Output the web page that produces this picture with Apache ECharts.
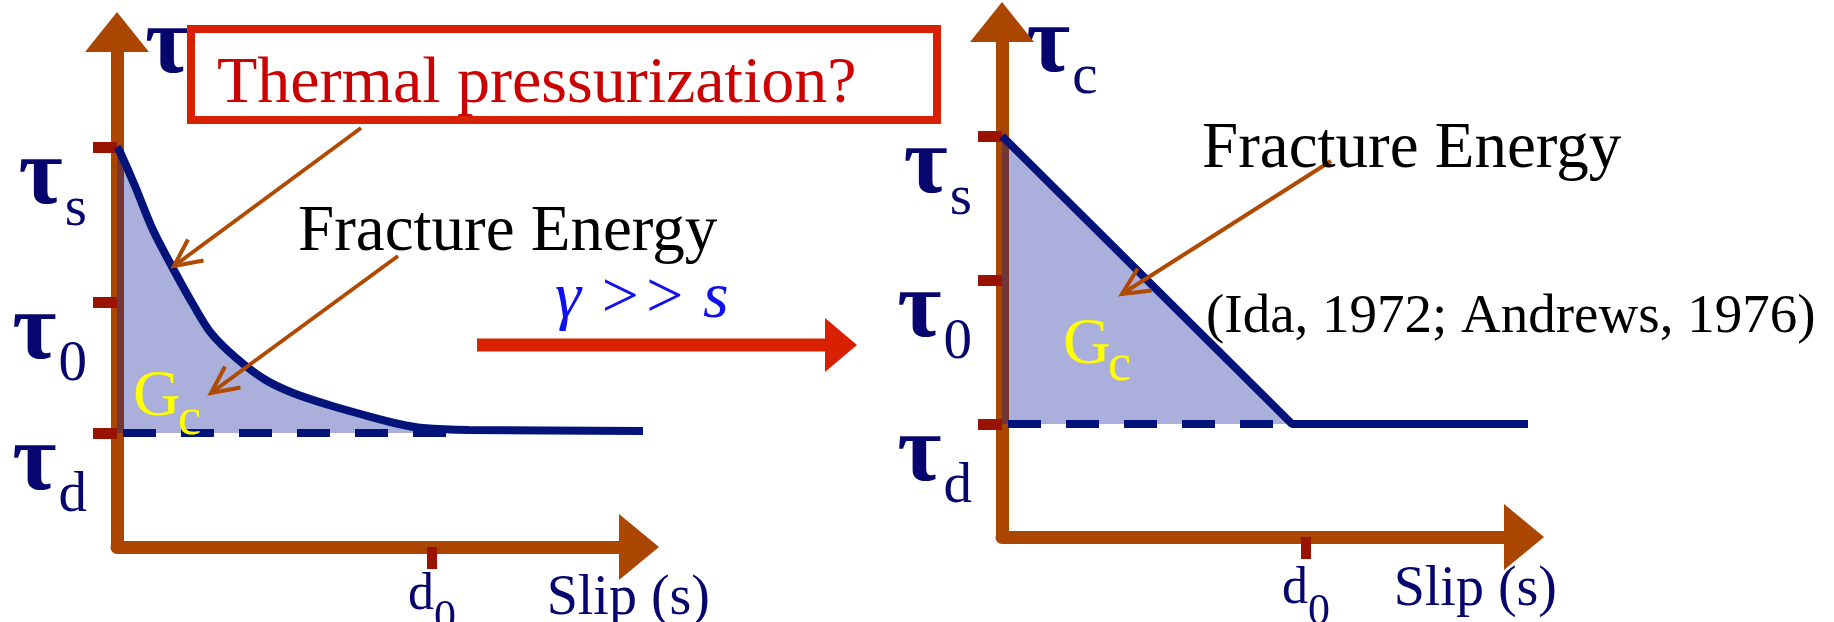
<!DOCTYPE html>
<html>
<head>
<meta charset="utf-8">
<script src="https://cdn.jsdelivr.net/npm/echarts@6/dist/echarts.min.js"></script>
<style>
  html, body { margin: 0; padding: 0; background: #fff; }
  #main { width: 1834px; height: 622px; }
</style>
</head>
<body>
<div id="main"></div>
<script>
// slip weakening: left = thermal pressurization (curved), right = linear law (Ida / Andrews)
// arbitrary units, same scale on both panels
var slipMax = 522;
var stressMax = 515;

var stressNames = ['d', '0', 's'];            // tau_d, tau_0, tau_s
var stressTicksLeft = [114, 245, 400];
var stressTicksRight = [113, 257, 401];
var d0Left = 315;
var d0Right = 304;

// friction curves [slip, stress]
var curveLeft = [[0, 400], [3, 395], [18, 361], [36, 317], [59, 273], [77, 241], [94, 214], [118, 190],
  [147, 168], [176, 154], [212, 142], [247, 132], [282, 123], [306, 119], [352, 117], [529, 116]];
var curveRight = [[0, 401], [290, 113], [529, 113]];
var dashLeft = [[6, 114], [329, 114]];
var dashRight = [[6, 113], [288, 113]];

// pointer arrows [fromSlip, fromStress, toSlip, toStress]
var pointersLeft = [[244, 419, 57, 281], [281, 291, 94, 154]];
var pointersRight = [[329, 376, 120, 243]];
var bigArrow = [[360, 202, 740, 202]];

var serif = "'Liberation Serif', 'Times New Roman', serif";
var brown = '#ab4600';
var tickRed = '#9a1200';
var navy = '#06066e';
var lineNavy = '#02147a';
var fillColor = 'rgba(12, 26, 155, 0.35)';

var chart = echarts.init(document.getElementById('main'));

function stressLabel(ticks) {
  return function (v) {
    for (var i = 0; i < ticks.length; i++) {
      if (Math.abs(ticks[i] - v) < 0.5) {
        return '{t|τ}{s|' + stressNames[i] + '}';
      }
    }
    return '';
  };
}

// subscripts are pushed down with top padding (content moves by half of it)
var tauRich = {
  t: { fontSize: 96, fontWeight: 'bold', fontFamily: serif, color: navy, lineHeight: 96 },
  s: { fontSize: 57, fontFamily: serif, color: navy, lineHeight: 20, padding: [64, 0, 0, 2] }
};
var dRich = {
  d: { fontSize: 52, fontFamily: serif, color: navy, lineHeight: 52 },
  z: { fontSize: 44, fontFamily: serif, color: navy, lineHeight: 2, padding: [46, 0, 0, 0] }
};

function makeX(idx, d0, gap, pad, margin) {
  return {
    type: 'value', gridIndex: idx, min: 0, max: slipMax,
    axisLine: { show: true, onZero: false, symbol: ['none', 'triangle'], symbolSize: [66, 40],
      lineStyle: { color: brown, width: 13, cap: 'round' } },
    axisTick: { show: true, customValues: [d0], length: 22, lineStyle: { color: tickRed, width: 10 } },
    axisLabel: { show: true, customValues: [d0], margin: margin, formatter: function () { return '{d|d}{z|0}'; }, rich: dRich },
    splitLine: { show: false },
    name: 'Slip (s)', nameLocation: 'end', nameGap: gap,
    nameTextStyle: { fontSize: 56, fontFamily: serif, color: navy, align: 'right', verticalAlign: 'top', lineHeight: 56, padding: [pad, 0, 0, 0] }
  };
}

function makeY(idx, ticks, gap, padLeft) {
  return {
    type: 'value', gridIndex: idx, min: 0, max: stressMax,
    axisLine: { show: true, onZero: false, symbol: ['none', 'triangle'], symbolSize: [64, 40],
      lineStyle: { color: brown, width: 13, cap: 'round' } },
    axisTick: { show: true, customValues: ticks, length: 24, lineStyle: { color: tickRed, width: 11 } },
    axisLabel: { show: true, customValues: ticks, margin: 30, align: 'right', verticalAlign: 'middle',
      padding: [62, 0, 0, 0], formatter: stressLabel(ticks), rich: tauRich },
    splitLine: { show: false },
    name: '{t|τ}{s|c}', nameLocation: 'end', nameGap: gap,
    nameTextStyle: { align: 'left', verticalAlign: 'middle', padding: [0, 0, 0, padLeft], rich: tauRich }
  };
}

function renderPointer(params, api) {
  var p0 = api.coord([api.value(0), api.value(1)]);
  var p1 = api.coord([api.value(2), api.value(3)]);
  var ang = Math.atan2(p0[1] - p1[1], p0[0] - p1[0]);
  var L = 30, a = 0.45;
  var b1 = [p1[0] + L * Math.cos(ang + a), p1[1] + L * Math.sin(ang + a)];
  var b2 = [p1[0] + L * Math.cos(ang - a), p1[1] + L * Math.sin(ang - a)];
  return {
    type: 'group',
    children: [
      { type: 'line', shape: { x1: p0[0], y1: p0[1], x2: p1[0], y2: p1[1] }, style: { stroke: '#b04a00', lineWidth: 4 } },
      { type: 'polyline', shape: { points: [b1, p1, b2] }, style: { stroke: '#b04a00', lineWidth: 4, fill: null } }
    ]
  };
}

function renderBigArrow(params, api) {
  var p0 = api.coord([api.value(0), api.value(1)]);
  var p1 = api.coord([api.value(2), api.value(3)]);
  var head = 32, half = 27, t = 13;
  return {
    type: 'group',
    children: [
      { type: 'rect', shape: { x: p0[0], y: p0[1] - t / 2, width: p1[0] - head - p0[0], height: t }, style: { fill: '#d92000' } },
      { type: 'polygon', shape: { points: [[p1[0] - head, p1[1] - half], [p1[0], p1[1]], [p1[0] - head, p1[1] + half]] }, style: { fill: '#d92000' } }
    ]
  };
}

function note(x, base, str, size, color, italic) {
  return {
    type: 'text', x: x, y: base - 0.33 * size, z: 100,
    style: { text: str, fontSize: size, fontFamily: serif, fontStyle: italic ? 'italic' : 'normal',
      fill: color, align: 'left', verticalAlign: 'middle' }
  };
}

var option = {
  backgroundColor: '#fff',
  animation: false,
  grid: [
    { left: 117, top: 32, width: 522, height: 515, outerBoundsMode: 'none', containLabel: false },
    { left: 1002, top: 22, width: 522, height: 515, outerBoundsMode: 'none', containLabel: false }
  ],
  xAxis: [makeX(0, d0Left, 71, 24, 22), makeX(1, d0Right, 33, 25, 26)],
  yAxis: [makeY(0, stressTicksLeft, -15, 28), makeY(1, stressTicksRight, -24, 24)],
  series: [
    {
      type: 'line', xAxisIndex: 0, yAxisIndex: 0, data: curveLeft, symbol: 'none', smooth: 0.3, clip: false,
      lineStyle: { color: lineNavy, width: 8 },
      areaStyle: { color: fillColor, opacity: 1, origin: stressTicksLeft[0] }
    },
    {
      type: 'line', xAxisIndex: 0, yAxisIndex: 0, data: dashLeft, symbol: 'none', clip: false,
      lineStyle: { color: lineNavy, width: 8, type: [33, 25] }
    },
    {
      type: 'line', xAxisIndex: 1, yAxisIndex: 1, data: curveRight, symbol: 'none', clip: false,
      lineStyle: { color: lineNavy, width: 8 },
      areaStyle: { color: fillColor, opacity: 1, origin: stressTicksRight[0] }
    },
    {
      type: 'line', xAxisIndex: 1, yAxisIndex: 1, data: dashRight, symbol: 'none', clip: false,
      lineStyle: { color: lineNavy, width: 8, type: [33, 25] }
    },
    { type: 'custom', xAxisIndex: 0, yAxisIndex: 0, data: pointersLeft, renderItem: renderPointer, z: 5 },
    { type: 'custom', xAxisIndex: 1, yAxisIndex: 1, data: pointersRight, renderItem: renderPointer, z: 5 },
    { type: 'custom', xAxisIndex: 0, yAxisIndex: 0, data: bigArrow, renderItem: renderBigArrow, z: 5 }
  ],
  graphic: [
    { type: 'rect', z: 100, shape: { x: 191, y: 29, width: 746, height: 91 },
      style: { fill: '#fff', stroke: '#d92000', lineWidth: 8 } },
    note(217, 106, 'Thermal pressurization?', 66, '#cc0000'),
    note(298, 254, 'Fracture Energy', 65, '#000'),
    note(1202, 171, 'Fracture Energy', 65, '#000'),
    note(1206, 336, '(Ida, 1972; Andrews, 1976)', 55, '#000'),
    note(555, 321, 'γ >> s', 66, '#1010ee', true),
    note(133, 419, 'G', 66, '#ffff00'),
    note(178, 438, 'c', 52, '#ffff00'),
    note(1063, 367, 'G', 66, '#ffff00'),
    note(1108, 384, 'c', 52, '#ffff00')
  ]
};

chart.setOption(option);
</script>
</body>
</html>
